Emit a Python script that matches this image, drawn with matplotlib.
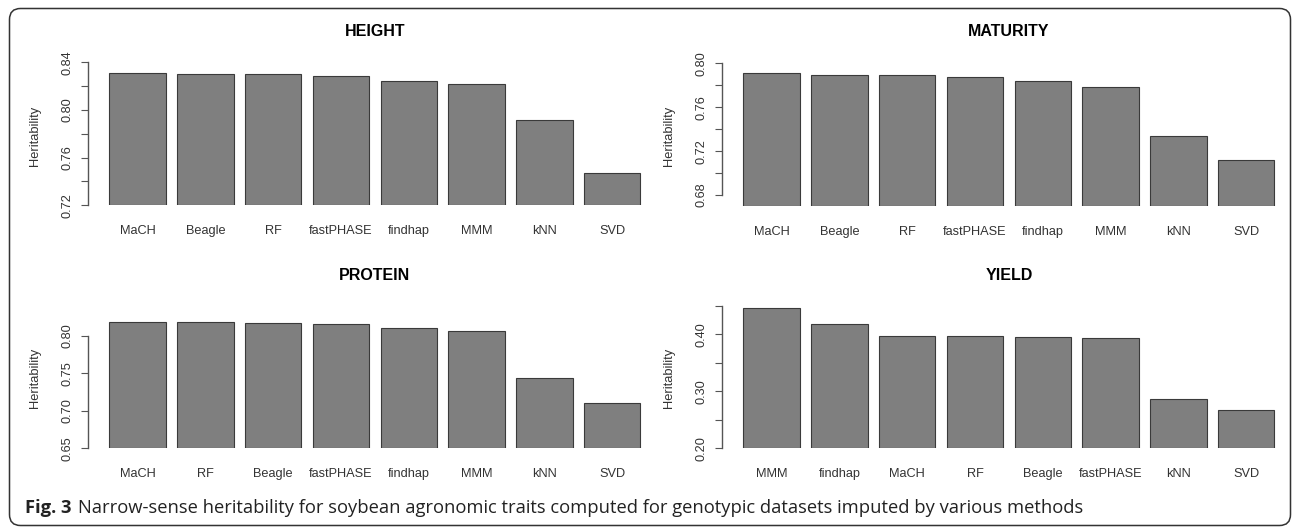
import matplotlib
matplotlib.use("Agg")
import matplotlib.pyplot as plt
from matplotlib.patches import FancyBboxPatch
from matplotlib.transforms import IdentityTransform

# data
height_methods = ["MaCH", "Beagle", "RF", "fastPHASE", "findhap", "MMM", "kNN", "SVD"]
height_vals = [0.8314, 0.8303, 0.8302, 0.8287, 0.8245, 0.8222, 0.7917, 0.7468]
height_ticks = [0.72, 0.74, 0.76, 0.78, 0.80, 0.82, 0.84]
height_labels = ["0.72", "", "0.76", "", "0.80", "", "0.84"]

maturity_methods = ["MaCH", "Beagle", "RF", "fastPHASE", "findhap", "MMM", "kNN", "SVD"]
maturity_vals = [0.7915, 0.7897, 0.7896, 0.7877, 0.7843, 0.7786, 0.7335, 0.7120]
maturity_ticks = [0.68, 0.70, 0.72, 0.74, 0.76, 0.78, 0.80]
maturity_labels = ["0.68", "", "0.72", "", "0.76", "", "0.80"]

protein_methods = ["MaCH", "RF", "Beagle", "fastPHASE", "findhap", "MMM", "kNN", "SVD"]
protein_vals = [0.8180, 0.8179, 0.8165, 0.8156, 0.8107, 0.8058, 0.7435, 0.7100]
protein_ticks = [0.65, 0.70, 0.75, 0.80]
protein_labels = ["0.65", "0.70", "0.75", "0.80"]

yield_methods = ["MMM", "findhap", "MaCH", "RF", "Beagle", "fastPHASE", "kNN", "SVD"]
yield_vals = [0.4467, 0.4187, 0.3970, 0.3969, 0.3948, 0.3925, 0.2857, 0.2665]
yield_ticks = [0.20, 0.25, 0.30, 0.35, 0.40, 0.45]
yield_labels = ["0.20", "", "0.30", "", "0.40", ""]

W, H = 1292, 527
fig = plt.figure(figsize=(W / 100, H / 100), dpi=100)
plt.rcParams['font.family'] = ['Liberation Sans', 'DejaVu Sans']

BAR = "#7f7f7f"
AXC = "#555555"
TXT = "#333333"


def panel(title, methods, vals, ticks, labels, left_px, px_hi, px_lo, ybot, ytop, title_y, ylab_y):
    # map data values to pixel rows using the first and last tick
    unit = 56.5
    x0, x1 = -0.176, 9.976
    s = (px_lo - px_hi) / (ticks[-1] - ticks[0])
    bot_px = px_lo + (ticks[0] - ybot) * s
    top_px = px_hi - (ytop - ticks[-1]) * s
    ax = fig.add_axes([left_px / W, 1 - bot_px / H, (x1 - x0) * unit / W, (bot_px - top_px) / H])
    centers = [0.7 + 1.2 * i for i in range(len(vals))]
    ax.bar(centers, [v - ybot for v in vals], bottom=ybot, width=1.0,
           color=BAR, edgecolor="#3a3a3a", linewidth=0.8)
    ax.set_xlim(x0, x1)
    ax.set_ylim(ybot, ytop)
    for sp in ["top", "right", "bottom"]:
        ax.spines[sp].set_visible(False)
    ax.spines["left"].set_bounds(ticks[0], ticks[-1])
    ax.spines["left"].set_color(AXC)
    ax.spines["left"].set_linewidth(1.0)
    ax.set_yticks(ticks)
    ax.set_yticklabels(labels, rotation=90, va="center", fontsize=9.2, color=TXT)
    ax.tick_params(axis="y", direction="out", length=4.8, width=0.8, color=AXC, pad=6)
    ax.set_xticks(centers)
    ax.set_xticklabels(methods, fontsize=9.2, color=TXT)
    ax.tick_params(axis="x", length=0, pad=14.5)
    ax.patch.set_alpha(0)
    xmid = left_px + (x1 - x0) * unit / 2
    fig.text(xmid / W, 1 - title_y / H, title, ha="center", va="center",
             fontsize=11.5, fontweight="bold", color="black")
    fig.text((left_px - 53.5) / W, 1 - ylab_y / H, "Heritability", rotation=90,
             ha="center", va="center", fontsize=9.3, color=TXT)
    return ax


panel("HEIGHT", height_methods, height_vals, height_ticks, height_labels,
      88.1, 62.4, 205.3, 0.72, 0.85, 32, 135.8)
panel("MATURITY", maturity_methods, maturity_vals, maturity_ticks, maturity_labels,
      722.1, 63.3, 195.0, 0.6703, 0.81, 32, 135.8)
panel("PROTEIN", protein_methods, protein_vals, protein_ticks, protein_labels,
      88.1, 335.7, 448.3, 0.65, 0.83, 275, 377.5)
panel("YIELD", yield_methods, yield_vals, yield_ticks, yield_labels,
      722.1, 305.7, 448.3, 0.20, 0.46, 275, 377.5)

# rounded frame
frame = FancyBboxPatch((9.5, 1.5), 1281, 517, boxstyle="round,pad=0,rounding_size=11",
                       transform=IdentityTransform(), fill=False, edgecolor="#333333",
                       linewidth=1.1)
fig.add_artist(frame)

# caption
cap_y = 1 - 508 / H
t1 = fig.text(25 / W, cap_y, "Fig. 3", ha="left", va="center", fontsize=13.25,
              fontweight="bold", family="Open Sans", color="#222222")
r = fig.canvas.get_renderer()
bb = t1.get_window_extent(r)
fig.text((bb.x1 + 6) / W, cap_y,
         "Narrow-sense heritability for soybean agronomic traits computed for genotypic datasets imputed by various methods",
         ha="left", va="center", fontsize=13.25, family="Open Sans", color="#222222")

fig.savefig("out.png", dpi=100)
